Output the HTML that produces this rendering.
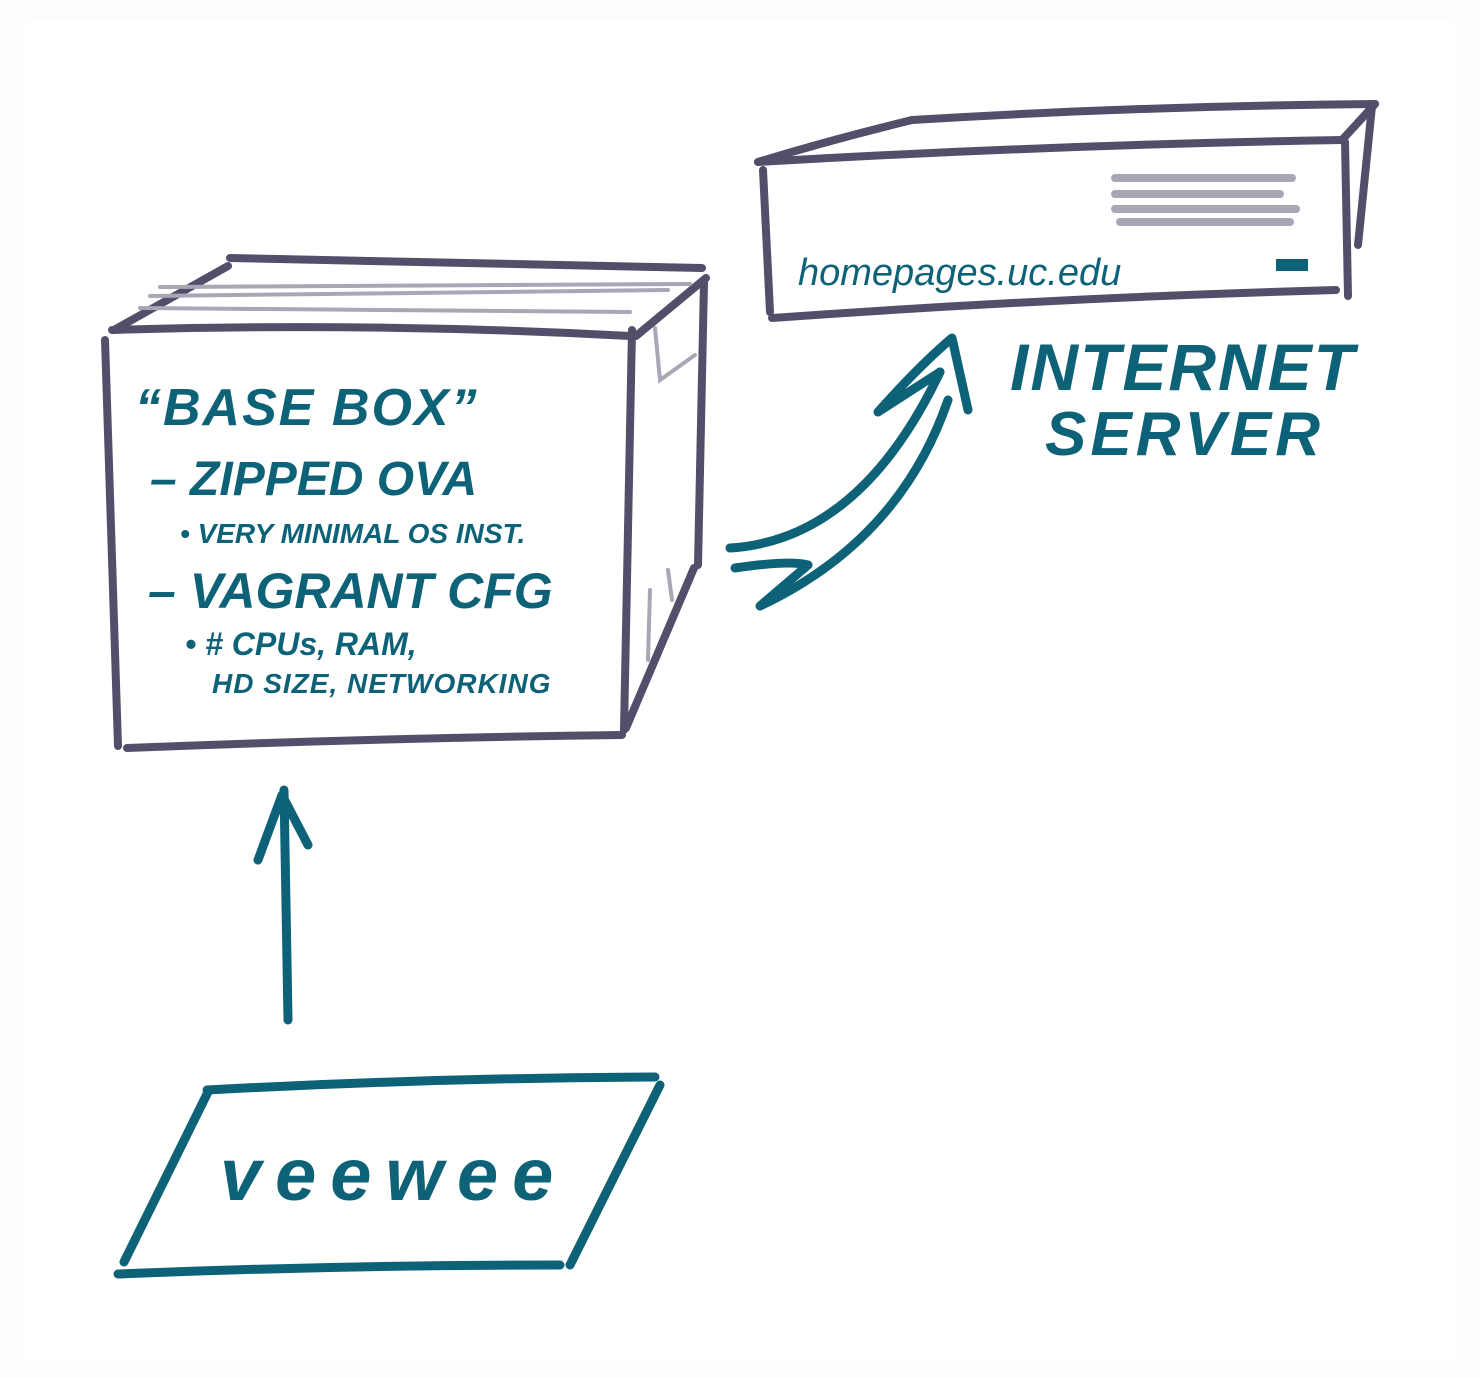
<!DOCTYPE html>
<html><head><meta charset="utf-8"><style>
html,body{margin:0;padding:0;background:#fff;}
svg{display:block;}
text{font-family:"Liberation Sans",sans-serif;fill:#0d6278;font-weight:bold;font-style:italic;}
</style></head><body>
<svg width="1480" height="1378" viewBox="0 0 1480 1378" xmlns="http://www.w3.org/2000/svg">
<rect x="0" y="0" width="1480" height="1378" fill="#fdfdfd"/>
<rect x="25" y="20" width="1430" height="1340" fill="#ffffff"/>
<g fill="none" stroke="#524f6b" stroke-width="8" stroke-linecap="round" stroke-linejoin="round">
<path d="M105 340 L118 746"/>
<path d="M127 748 Q380 738 622 735"/>
<path d="M632 330 L624 730"/>
<path d="M112 330 Q370 322 630 336"/>
<path d="M230 258 Q460 262 702 268"/>
<path d="M114 330 L228 266"/>
<path d="M636 336 L706 278"/>
<path d="M704 282 L698 565"/>
<path d="M694 568 L626 728"/>
<path d="M758 162 Q830 140 912 120"/>
<path d="M912 120 Q1140 106 1375 104"/>
<path d="M758 162 Q1050 145 1342 140"/>
<path d="M1375 104 L1342 140"/>
<path d="M1372 106 L1358 245"/>
<path d="M1345 142 L1348 296"/>
<path d="M763 170 L770 312"/>
<path d="M772 318 Q1050 298 1336 290"/>
</g>
<g fill="none" stroke="#a9a6b5" stroke-width="4" stroke-linecap="round">
<path d="M140 308 L630 312"/><path d="M150 296 L668 290"/><path d="M160 287 L690 284"/>
<path d="M655 328 L660 380 L695 355"/><path d="M650 590 L648 660"/><path d="M668 570 L672 600"/>
</g>
<g stroke="#a9a6b5" stroke-width="8" stroke-linecap="round">
<path d="M1115 178 L1292 178"/><path d="M1115 194 L1280 194"/><path d="M1115 209 L1296 209"/><path d="M1120 222 L1290 222"/>
</g>
<rect x="1276" y="259" width="32" height="12" fill="#0d6278"/>
<text x="798" y="285" font-size="38" style="font-weight:normal">homepages.uc.edu</text>
<text x="1010" y="390" font-size="66" letter-spacing="2">INTERNET</text>
<text x="1045" y="455" font-size="62" letter-spacing="4">SERVER</text>
<text x="135" y="425" font-size="52" letter-spacing="2">“BASE BOX”</text>
<text x="150" y="495" font-size="48">– ZIPPED OVA</text>
<text x="180" y="543" font-size="28">• VERY MINIMAL OS INST.</text>
<text x="148" y="608" font-size="50">– VAGRANT CFG</text>
<text x="185" y="655" font-size="32">• # CPUs, RAM,</text>
<text x="212" y="693" font-size="28" letter-spacing="1">HD SIZE, NETWORKING</text>
<text x="220" y="1200" font-size="74" letter-spacing="14">veewee</text>
<g fill="none" stroke="#0d6278" stroke-width="9" stroke-linecap="round" stroke-linejoin="round">
<path d="M730 548 Q860 540 940 372"/>
<path d="M735 568 Q790 560 808 565 L760 606 Q900 540 948 400"/>
<path d="M878 412 Q920 365 952 338 L968 410 M940 372 L878 412"/>
<path d="M288 1020 L284 790"/>
<path d="M258 860 L282 795 L308 845"/>
<path d="M207 1090 Q430 1078 655 1077"/>
<path d="M660 1085 L570 1265"/>
<path d="M118 1274 Q340 1265 560 1265"/>
<path d="M208 1092 L124 1262"/>
</g>
</svg>
</body></html>
